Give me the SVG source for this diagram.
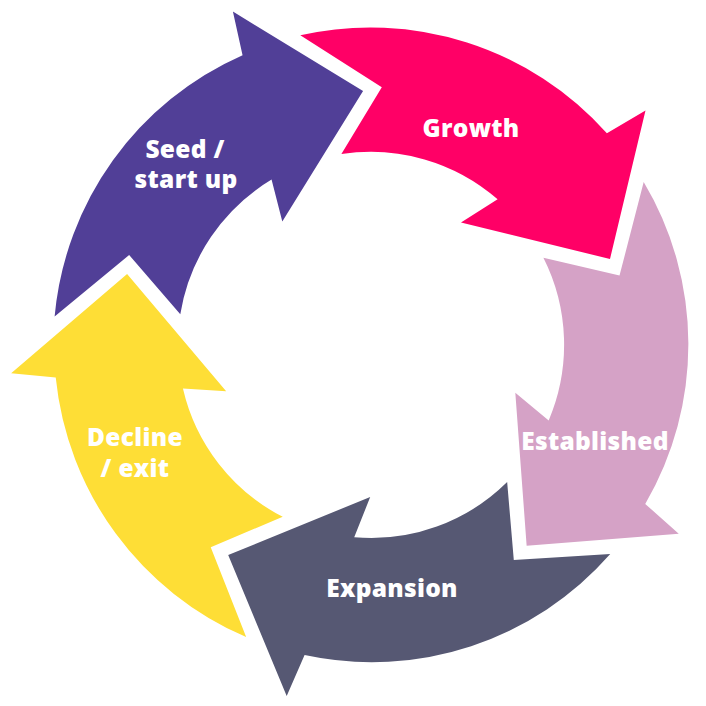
<svg xmlns="http://www.w3.org/2000/svg" xmlns:xlink="http://www.w3.org/1999/xlink" width="706" height="706" viewBox="0 0 706 706">
<style>
.lbl{font-family:"Open Sans","Liberation Sans",sans-serif;font-weight:800;font-size:24.5px;letter-spacing:0.3px;fill:#ffffff;text-anchor:middle}
</style>
<defs>
<path id="arrow" d="M300.3,35.3 A317,317 0 0 1 606.9,133.3 L645.5,110.6 L610,259 L461,222.5 L497.6,199.3 A193,193 0 0 0 341.4,154.1 L381.8,87.2 Z"/>
</defs>
<rect width="706" height="706" fill="#ffffff"/>
<g id="seed">
<use href="#arrow" xlink:href="#arrow" fill="#513F97" transform="rotate(288 371 345)"/>
<text class="lbl" x="185" y="158">Seed /</text>
<text class="lbl" x="186" y="188">start up</text>
</g>
<g id="growth">
<use href="#arrow" xlink:href="#arrow" fill="#FF0066"/>
<text class="lbl" x="471" y="137">Growth</text>
</g>
<g id="established">
<use href="#arrow" xlink:href="#arrow" fill="#D5A2C6" transform="rotate(72 371 345)"/>
<text class="lbl" x="595" y="450">Established</text>
</g>
<g id="expansion">
<use href="#arrow" xlink:href="#arrow" fill="#565873" transform="rotate(144 371 345)"/>
<text class="lbl" x="392" y="597">Expansion</text>
</g>
<g id="decline">
<use href="#arrow" xlink:href="#arrow" fill="#FEDE36" transform="rotate(216 371 345)"/>
<text class="lbl" x="135" y="446">Decline</text>
<text class="lbl" x="135" y="477">/ exit</text>
</g>
</svg>
